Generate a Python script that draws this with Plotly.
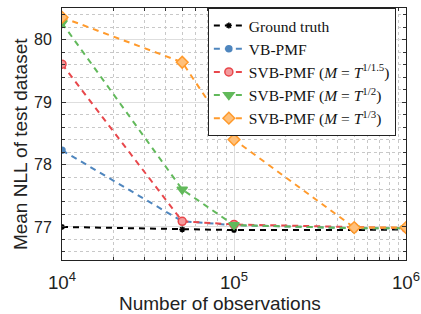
import plotly.graph_objects as go

x_obs = [1e4, 5e4, 1e5, 5e5, 1e6]
ground_truth = [77.00, 76.96, 76.95, 76.95, 76.96]
vb_pmf = [78.23, 77.09, 77.03, 76.98, 76.98]
svb_15 = [79.61, 77.09, 77.04, 76.99, 76.98]
svb_2 = [80.27, 77.60, 77.03, 76.98, 76.98]
svb_3 = [80.36, 79.64, 78.40, 76.99, 76.99]

names = [
    "Ground truth",
    "VB-PMF",
    "SVB-PMF (<i>M</i> = <i>T</i><sup>1/1.5</sup>)",
    "SVB-PMF (<i>M</i> = <i>T</i><sup>1/2</sup>)",
    "SVB-PMF (<i>M</i> = <i>T</i><sup>1/3</sup>)",
]
x_title = "Number of observations"
y_title = "Mean NLL of test dataset"

series = [ground_truth, vb_pmf, svb_15, svb_2, svb_3]
colors = ["#000000", "#4f86be", "#e8474b", "#62b95b", "#ff9a2c"]
fills = ["#000000", "#4f86be", "#f39a9c", "#62b95b", "#ffc07a"]
symbols = ["asterisk", "circle", "circle", "triangle-down", "diamond"]
sizes = [5, 6, 8, 9, 9]

fig = go.Figure()
for name, ys, c, f, s, sz in zip(names, series, colors, fills, symbols, sizes):
    fig.add_trace(go.Scatter(
        x=x_obs, y=ys, name=name, mode="lines+markers",
        line=dict(color=c, width=2, dash="6px,5px"),
        marker=dict(symbol=s, size=sz, color=f,
                    line=dict(color=c, width=1.5)),
    ))

axis_common = dict(
    showline=True, linecolor="#222", linewidth=1, mirror="ticks",
    ticks="inside", ticklen=4, tickcolor="#333",
    showgrid=True, gridcolor="#dedede", gridwidth=1,
    zeroline=False, automargin=False,
)

fig.update_xaxes(
    type="log", range=[4, 6], dtick=1, exponentformat="power",
    tickfont=dict(family="Liberation Sans, Arial", size=15, color="#222"),
    ticklabelstandoff=6,
    minor=dict(ticks="inside", ticklen=3, tickcolor="#333", showgrid=True,
               gridcolor="#c8c8c8", griddash="dot", gridwidth=1),
    **axis_common,
)
fig.update_yaxes(
    range=[76.47, 80.51], dtick=1,
    tickfont=dict(family="Liberation Sans, Arial", size=16, color="#222"),
    ticklabelstandoff=6,
    minor=dict(dtick=0.2, ticks="inside", ticklen=3, tickcolor="#333",
               showgrid=True, gridcolor="#c8c8c8", griddash="dot", gridwidth=1),
    **axis_common,
)

title_font = dict(family="Liberation Sans, Arial", size=19, color="#222")
fig.add_annotation(text=x_title, xref="paper", yref="paper",
                   x=0.458, y=-0.171, xanchor="center", yanchor="middle",
                   showarrow=False, font=title_font)
fig.add_annotation(text=y_title, xref="paper", yref="paper",
                   x=-0.122, y=0.46, xanchor="center", yanchor="middle",
                   textangle=-90, showarrow=False, font=title_font)

fig.update_layout(
    width=421, height=314,
    margin=dict(l=62, r=15, t=8, b=54),
    plot_bgcolor="white", paper_bgcolor="white",
    legend=dict(
        x=0.424, y=1, xanchor="left", yanchor="top",
        bgcolor="white", bordercolor="#222", borderwidth=1,
        font=dict(family="Liberation Serif, Times New Roman", size=15.5, color="#111"),
        itemwidth=30, tracegroupgap=0,
    ),
    showlegend=True,
)

fig.write_html("out.html", config={"displayModeBar": False},
               post_script="document.body.style.margin='0';")
